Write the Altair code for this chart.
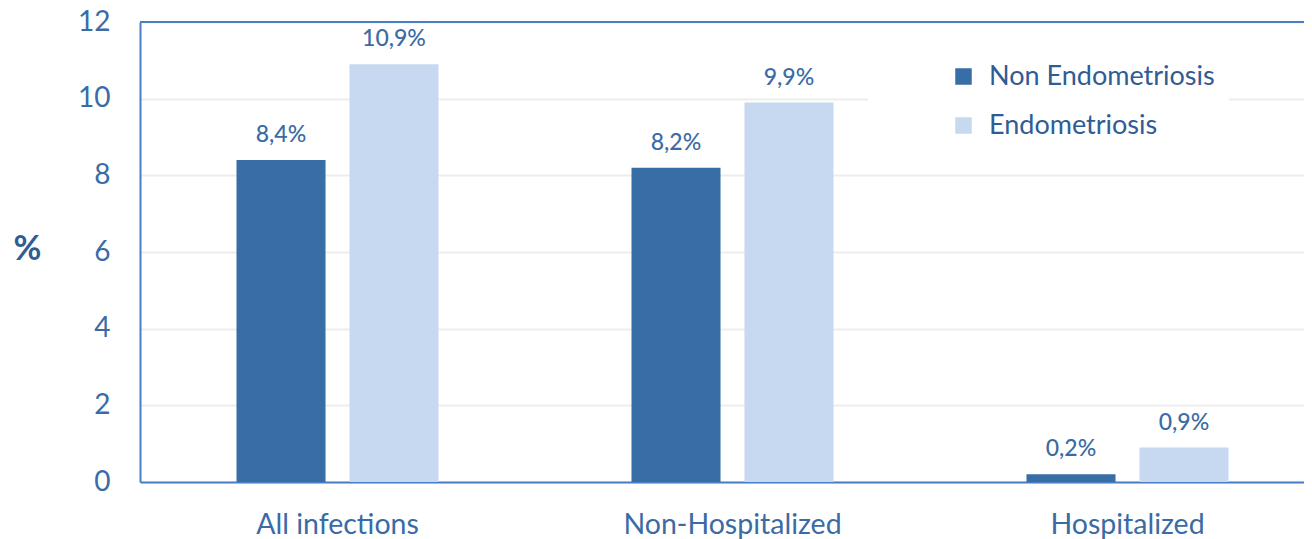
import altair as alt
import pandas as pd

groups = ["All infections", "Non-Hospitalized", "Hospitalized"]
series = ["Non Endometriosis", "Endometriosis"]
non_endo = [8.4, 8.2, 0.2]
endo = [10.9, 9.9, 0.9]
colors = ["#376EA6", "#C6D9F0"]

rows = []
for g, a, b in zip(groups, non_endo, endo):
    for s, v in zip(series, [a, b]):
        rows.append({"group": g, "series": s, "value": v,
                     "label": f"{v:.1f}".replace(".", ",") + "%"})
df = pd.DataFrame(rows)

FONT = "Lato"
BLUE_TXT = "#3A6BA5"
BORDER = "#4A7EC4"
W = 1164
H = 460

x = alt.X("group:N", sort=groups, title=None,
          scale=alt.Scale(paddingInner=0, paddingOuter=0, range=[0, 1185]),
          axis=alt.Axis(labelAngle=0, labelFontSize=28.5, labelColor=BLUE_TXT,
                        labelFont=FONT, ticks=False, domainColor=BORDER,
                        domainWidth=2, labelPadding=28, labelLimit=0))
xo = alt.XOffset("series:N", sort=series,
                 scale=alt.Scale(paddingInner=0.212, paddingOuter=0.854))
y = alt.Y("value:Q", title="%",
          scale=alt.Scale(domain=[0, 12]),
          axis=alt.Axis(values=[0, 2, 4, 6, 8, 10, 12], labelFontSize=28,
                        labelColor=BLUE_TXT, labelFont=FONT, ticks=False,
                        labelPadding=30, domainColor=BORDER, domainWidth=2,
                        gridColor="#EDEDED", gridWidth=2,
                        titleAngle=0, titleFontSize=34, titleFont=FONT,
                        titleColor="#2F5C94", titleFontWeight="bold",
                        titleX=-113, titleY=227, titleAlign="center",
                        titleBaseline="middle"))

bars = alt.Chart(df).mark_bar().encode(
    x=x, xOffset=xo, y=y,
    color=alt.Color("series:N", sort=series,
                    scale=alt.Scale(domain=series, range=colors),
                    legend=alt.Legend(title=None, orient="none",
                                      legendX=728, legendY=27,
                                      symbolType="square", symbolSize=272,
                                      symbolStrokeWidth=0, symbolOffset=68,
                                      labelFontSize=27, labelFont=FONT,
                                      labelColor="#2F5C94", rowPadding=21,
                                      labelOffset=12, padding=14,
                                      labelLimit=0, fillColor="white")),
)

labels = alt.Chart(df).mark_text(baseline="alphabetic", dy=-18, fontSize=23,
                                 font=FONT, fontWeight=500,
                                 color=BLUE_TXT).encode(
    x=alt.X("group:N", sort=groups), xOffset=alt.XOffset("series:N", sort=series),
    y="value:Q", text="label:N")

top_border = alt.Chart(df).mark_rule(color=BORDER, strokeWidth=2).encode(
    y=alt.value(0), x=alt.value(0), x2=alt.value(W))

chart = (bars + labels + top_border).properties(
    width=W, height=H,
    autosize=alt.AutoSizeParams(type="none"),
    padding={"left": 132, "top": 14, "right": 0, "bottom": 57},
).configure_view(stroke=None)

chart.save("out.html", embed_options={"renderer": "svg", "actions": False})
